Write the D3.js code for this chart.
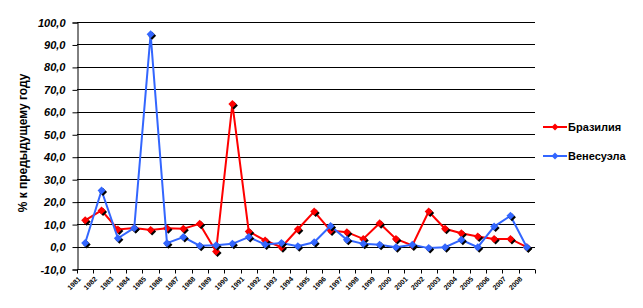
<!DOCTYPE html>
<html>
<head>
<meta charset="utf-8">
<script src="https://cdn.jsdelivr.net/npm/d3@7"></script>
<style>
body { margin: 0; background: #fff; }
text { font-family: "Liberation Sans", Arial, sans-serif; }
</style>
</head>
<body>
<svg id="svg" width="643" height="308"></svg>
<script>
// data
var years = [];
for (var yr = 1981; yr <= 2008; yr++) years.push(String(yr));

var brazil = [11.7, 16.1, 7.6, 8.3, 7.4, 8.2, 7.9, 10.1, -2.2, 63.5,
              6.7, 2.7, -0.3, 7.7, 15.6, 7.1, 6.4, 3.4, 10.4, 3.4,
              0.5, 15.6, 7.9, 5.9, 4.5, 3.4, 3.4, -0.3];

var venezuela = [1.6, 25.0, 3.7, 8.3, 94.6, 1.5, 4.2, 0.4, 0.6, 1.2,
                 4.2, 0.9, 1.6, 0.1, 1.9, 9.2, 3.0, 1.2, 0.8, -0.3,
                 0.8, -0.7, -0.3, 3.0, -0.3, 8.9, 13.7, -0.3];

var yTicks = [-10, 0, 10, 20, 30, 40, 50, 60, 70, 80, 90, 100];

var series = [
  { name: "Бразилия", values: brazil, color: "#ff0000" },
  { name: "Венесуэла", values: venezuela, color: "#3366ff" }
];

var svg = d3.select("#svg");

var x = d3.scaleBand().domain(years).range([77, 535]).padding(0);
var y = d3.scaleLinear().domain([-10, 100]).range([269, 22]);
var fmt = function(d) { return d3.format(".1f")(d).replace(".", ",").replace("−", "-"); };

// grid lines
svg.append("g").selectAll("line")
  .data(yTicks.filter(function(d) { return d > -10; }))
  .enter().append("line")
  .attr("x1", 77).attr("x2", 535)
  .attr("y1", function(d) { return Math.round(y(d)) + 0.5; })
  .attr("y2", function(d) { return Math.round(y(d)) + 0.5; })
  .attr("stroke", "#000").attr("stroke-width", 1);

// y axis
var yAxis = svg.append("g")
  .attr("transform", "translate(77.5,0.5)")
  .call(d3.axisLeft(y).tickValues(yTicks).tickSize(5).tickPadding(7).tickFormat(fmt));
yAxis.selectAll("text")
  .attr("font-size", "11px").attr("font-weight", "bold").attr("font-style", "italic")
  .attr("font-family", "Liberation Sans, Arial, sans-serif").attr("fill", "#000");
yAxis.select(".domain").attr("stroke", "#000");

// x axis (category ticks at boundaries)
var xAxis = svg.append("g").attr("transform", "translate(0,269.5)");
xAxis.append("line").attr("x1", 77).attr("x2", 535).attr("stroke", "#000");
xAxis.selectAll("line.tk")
  .data(years.concat(["end"]))
  .enter().append("line").attr("class", "tk")
  .attr("x1", function(d, i) { return Math.round(77 + i * x.bandwidth()) + 0.5; })
  .attr("x2", function(d, i) { return Math.round(77 + i * x.bandwidth()) + 0.5; })
  .attr("y1", 0).attr("y2", 4).attr("stroke", "#000");
xAxis.selectAll("text")
  .data(years)
  .enter().append("text")
  .attr("transform", function(d) { return "translate(" + (x(d) + x.bandwidth() / 2 - 4) + ",10) rotate(-45)"; })
  .attr("text-anchor", "end")
  .attr("font-size", "7px").attr("font-weight", "bold")
  .text(function(d) { return d; });

// y axis title
svg.append("text")
  .attr("transform", "translate(27,143) rotate(-90)")
  .attr("text-anchor", "middle")
  .attr("font-size", "12px").attr("font-weight", "bold")
  .text("% к предыдущему году");

var line = d3.line()
  .x(function(d, i) { return x(years[i]) + x.bandwidth() / 2; })
  .y(function(d) { return y(d); });

var diamond = function(cx, cy, r) {
  return "M" + cx + "," + (cy - r) + "L" + (cx + r) + "," + cy + "L" + cx + "," + (cy + r) + "L" + (cx - r) + "," + cy + "Z";
};

series.forEach(function(s) {
  var g = svg.append("g");
  g.append("path").datum(s.values)
    .attr("d", line).attr("fill", "none")
    .attr("stroke", s.color).attr("stroke-width", 2);
  g.selectAll("path.sh").data(s.values).enter().append("path").attr("class", "sh")
    .attr("d", function(d, i) { return diamond(x(years[i]) + x.bandwidth() / 2 + 1.5, y(d) + 1.5, 4); })
    .attr("fill", "#000");
  g.selectAll("path.mk").data(s.values).enter().append("path").attr("class", "mk")
    .attr("d", function(d, i) { return diamond(x(years[i]) + x.bandwidth() / 2, y(d), 4); })
    .attr("fill", s.color);
});

// legend
var leg = svg.selectAll("g.leg").data(series).enter().append("g").attr("class", "leg")
  .attr("transform", function(d, i) { return "translate(543," + (127 + i * 29) + ")"; });
leg.append("line").attr("x1", 0).attr("x2", 24).attr("stroke", function(d) { return d.color; }).attr("stroke-width", 2);
leg.append("path").attr("d", diamond(12, 0, 3.5)).attr("fill", function(d) { return d.color; });
leg.append("text").attr("x", 25).attr("y", 4)
  .attr("font-size", "11px").attr("font-weight", "bold")
  .text(function(d) { return d.name; });
</script>
</body>
</html>
